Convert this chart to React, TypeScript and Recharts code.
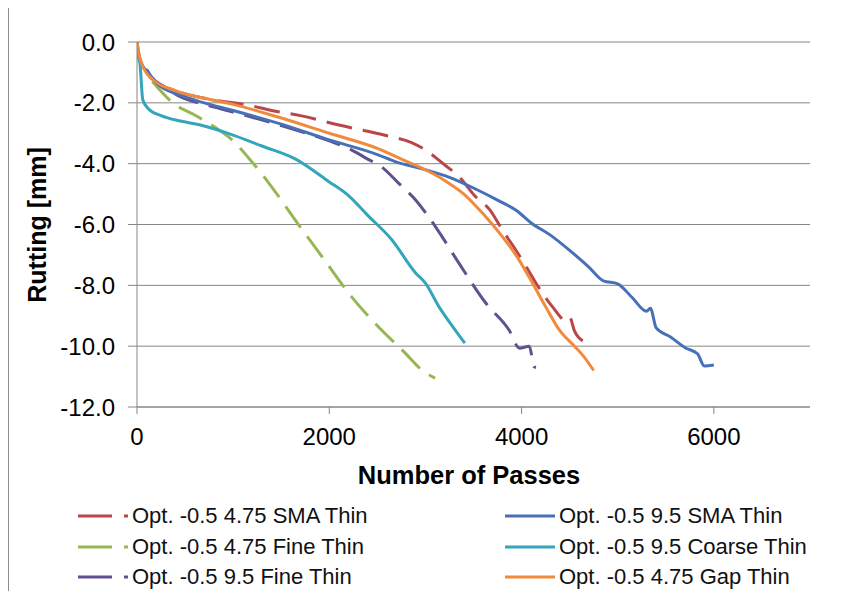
import { LineChart, Line, XAxis, YAxis, CartesianGrid } from "recharts";

// passes (x) and rutting in mm (y) for each mix
const smaThin475X = [0, 20, 60, 170, 400, 700, 1000, 1150, 1400, 1700, 2100, 2600, 2850, 3000, 3200, 3350, 3520, 3670, 3800, 3940, 4050, 4150, 4320, 4460, 4500, 4550, 4650];
const smaThin475Y = [0, -0.4, -0.8, -1.25, -1.6, -1.85, -2.0, -2.07, -2.25, -2.42, -2.73, -3.08, -3.3, -3.55, -4.04, -4.43, -5.08, -5.52, -6.18, -6.84, -7.4, -7.93, -8.7, -9.15, -9.05, -9.5, -9.85];

const smaThin95X = [0, 20, 100, 200, 450, 700, 1000, 1500, 2000, 2500, 2700, 3000, 3250, 3500, 3750, 3950, 4100, 4300, 4500, 4700, 4850, 5000, 5150, 5300, 5340, 5400, 5550, 5700, 5830, 5900, 6000];
const smaThin95Y = [-0.2, -0.55, -0.95, -1.35, -1.75, -2.0, -2.25, -2.7, -3.22, -3.7, -3.95, -4.2, -4.45, -4.8, -5.2, -5.55, -5.95, -6.35, -6.85, -7.4, -7.85, -7.95, -8.4, -8.85, -8.75, -9.4, -9.7, -10.05, -10.25, -10.65, -10.62];

const fineThin475X = [160, 380, 600, 800, 1000, 1150, 1400, 1670, 1950, 2230, 2510, 2790, 2950, 3100];
const fineThin475Y = [-1.3, -2.02, -2.4, -2.78, -3.25, -3.77, -4.76, -5.96, -7.17, -8.37, -9.36, -10.23, -10.75, -11.05];

const coarseThin95X = [0, 30, 60, 120, 250, 450, 650, 1000, 1300, 1650, 2000, 2200, 2400, 2650, 2900, 3000, 3140, 3310, 3410];
const coarseThin95Y = [-0.4, -0.7, -1.9, -2.2, -2.42, -2.6, -2.72, -3.06, -3.42, -3.85, -4.6, -5.05, -5.7, -6.5, -7.6, -7.93, -8.7, -9.47, -9.9];

const fineThin95X = [100, 150, 300, 450, 700, 1000, 1500, 2000, 2200, 2400, 2550, 2720, 2900, 3100, 3350, 3630, 3870, 3980, 4080, 4130, 4150];
const fineThin95Y = [-0.9, -1.15, -1.5, -1.8, -2.05, -2.3, -2.75, -3.25, -3.5, -3.85, -4.12, -4.64, -5.2, -6.05, -7.28, -8.59, -9.47, -10.07, -10.0, -10.67, -10.7];

const gapThin475X = [0, 20, 60, 170, 400, 700, 1000, 1500, 2000, 2500, 2750, 3000, 3200, 3400, 3600, 3800, 3950, 4100, 4250, 4400, 4550, 4650, 4750];
const gapThin475Y = [0, -0.4, -0.8, -1.25, -1.6, -1.85, -2.05, -2.5, -3.0, -3.5, -3.85, -4.2, -4.55, -5.0, -5.65, -6.4, -7.05, -7.85, -8.7, -9.5, -10.0, -10.35, -10.8];

const xTicks = [0, 2000, 4000, 6000];
const yTicks = [0, -2, -4, -6, -8, -10, -12];

const zip = (xs: number[], ys: number[]) => xs.map((x, i) => ({ x, y: ys[i] }));

const series = [
  { name: "Opt. -0.5 4.75 SMA Thin", color: "#B9474A", dashed: true, data: zip(smaThin475X, smaThin475Y) },
  { name: "Opt. -0.5 4.75 Fine Thin", color: "#97B752", dashed: true, data: zip(fineThin475X, fineThin475Y) },
  { name: "Opt. -0.5 9.5 Fine Thin", color: "#62518F", dashed: true, data: zip(fineThin95X, fineThin95Y) },
  { name: "Opt. -0.5 9.5 SMA Thin", color: "#4671B8", dashed: false, data: zip(smaThin95X, smaThin95Y) },
  { name: "Opt. -0.5 9.5 Coarse Thin", color: "#33A6BC", dashed: false, data: zip(coarseThin95X, coarseThin95Y) },
  { name: "Opt. -0.5 4.75 Gap Thin", color: "#F28A3C", dashed: false, data: zip(gapThin475X, gapThin475Y) },
];

const FONT = '"Liberation Sans", Arial, sans-serif';
const GRID = "#868686";

const fmtY = (v: number) => v.toFixed(1);

const LegendItem = ({ s, left, top }: any) => (
  <div style={{ position: "absolute", left, top, display: "flex", alignItems: "center", height: 26 }}>
    <svg width={54} height={10}>
      <line
        x1={0}
        y1={5}
        x2={50}
        y2={5}
        stroke={s.color}
        strokeWidth={3}
        strokeDasharray={s.dashed ? "34 12" : undefined}
      />
    </svg>
    <span style={{ fontSize: 22, color: "#111", whiteSpace: "nowrap" }}>{s.name}</span>
  </div>
);

const rowsY = [516, 547, 577];

export default function App() {
  const leftCol = [series[0], series[1], series[2]];
  const rightCol = [series[3], series[4], series[5]];
  return (
    <div
      style={{
        position: "relative",
        marginTop: -3,
        width: 856,
        height: 585,
        borderTop: "1px solid #8c8c8c",
        borderLeft: "1px solid #8c8c8c",
        fontFamily: FONT,
        background: "#fff",
      }}
    >
      <LineChart width={856} height={480} margin={{ top: 36, right: 55, bottom: 19, left: 10 }}>
        <CartesianGrid vertical={false} stroke={GRID} strokeWidth={1} />
        <XAxis
          type="number"
          dataKey="x"
          domain={[0, 7000]}
          ticks={xTicks}
          allowDataOverflow
          height={60}
          tickSize={7}
          tickMargin={14}
          stroke={GRID}
          tick={{ fontSize: 24, fill: "#000", fontFamily: FONT }}
        />
        <YAxis
          type="number"
          domain={[-12, 0]}
          ticks={yTicks}
          width={118}
          tickSize={9}
          tickMargin={13}
          tickFormatter={fmtY}
          stroke={GRID}
          tick={{ fontSize: 24, fill: "#000", fontFamily: FONT }}
        />
        {series.map((s) => (
          <Line
            key={s.name}
            data={s.data}
            dataKey="y"
            name={s.name}
            type="monotone"
            stroke={s.color}
            strokeWidth={3}
            strokeDasharray={s.dashed ? "26 11" : undefined}
            dot={false}
            activeDot={false}
            isAnimationActive={false}
          />
        ))}
      </LineChart>

      <div
        style={{
          position: "absolute",
          left: 469 - 9 - 168,
          top: 455,
          width: 336,
          textAlign: "center",
          fontSize: 25.5,
          fontWeight: "bold",
          color: "#000",
        }}
      >
        Number of Passes
      </div>
      <div
        style={{
          position: "absolute",
          left: 37 - 9 - 100,
          top: 225 - 6 - 16,
          width: 200,
          height: 32,
          lineHeight: "32px",
          textAlign: "center",
          fontSize: 25,
          fontWeight: "bold",
          color: "#000",
          transform: "rotate(-90deg)",
        }}
      >
        Rutting [mm]
      </div>

      {leftCol.map((s, i) => (
        <LegendItem key={s.name} s={s} left={78 - 9} top={rowsY[i] - 6 - 13} />
      ))}
      {rightCol.map((s, i) => (
        <LegendItem key={s.name} s={s} left={505 - 9} top={rowsY[i] - 6 - 13} />
      ))}
    </div>
  );
}
